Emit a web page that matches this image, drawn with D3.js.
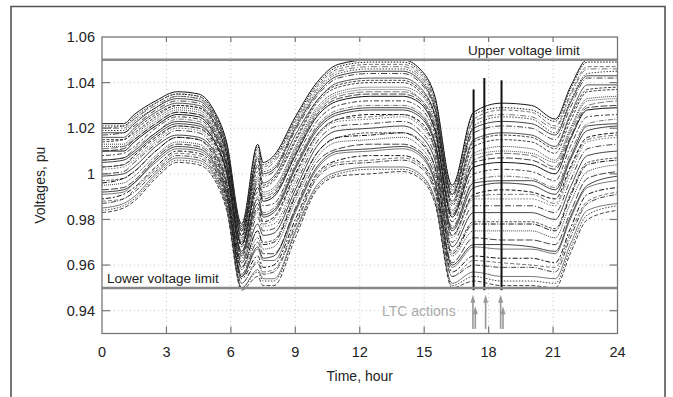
<!DOCTYPE html>
<html>
<head>
<meta charset="utf-8">
<script src="https://cdn.jsdelivr.net/npm/d3@7"></script>
<style>
  body { margin: 0; background: #fff; }
  svg text { font-family: "Liberation Sans", Arial, sans-serif; fill: #222; }
</style>
</head>
<body>
<script>
// hours at which the bus voltage profiles were read
const hours = [0, 1, 1.5, 2.5, 3.5, 4.5, 5.2, 5.8, 6.5, 7.25, 7.5, 8, 9, 10, 11, 12.5, 14, 14.8, 15.5, 16.3, 17.3, 18.6, 20, 21.1, 21.8, 22.6, 24];

// one row per hour, one column per bus (pu)
const busVoltages = [
  [1.022, 1.020, 1.019, 1.017, 1.016, 1.014, 1.013, 1.011, 1.010, 1.008, 1.006, 1.005, 1.003, 1.002, 1.000, 0.999, 0.997, 0.995, 0.993, 0.991, 0.989, 0.987, 0.985, 0.983],
  [1.022, 1.021, 1.019, 1.018, 1.016, 1.015, 1.013, 1.012, 1.010, 1.009, 1.007, 1.006, 1.004, 1.003, 1.001, 1.000, 0.998, 0.996, 0.994, 0.992, 0.991, 0.989, 0.987, 0.985],
  [1.026, 1.024, 1.023, 1.021, 1.020, 1.018, 1.017, 1.015, 1.014, 1.012, 1.011, 1.009, 1.008, 1.006, 1.005, 1.003, 1.001, 0.999, 0.997, 0.996, 0.994, 0.992, 0.990, 0.988],
  [1.032, 1.031, 1.029, 1.028, 1.027, 1.025, 1.024, 1.022, 1.021, 1.020, 1.018, 1.017, 1.016, 1.014, 1.013, 1.012, 1.010, 1.008, 1.007, 1.005, 1.003, 1.001, 1.000, 0.998],
  [1.036, 1.035, 1.034, 1.032, 1.031, 1.030, 1.029, 1.027, 1.026, 1.025, 1.024, 1.022, 1.021, 1.020, 1.019, 1.017, 1.016, 1.014, 1.013, 1.011, 1.010, 1.008, 1.007, 1.005],
  [1.035, 1.034, 1.033, 1.031, 1.030, 1.029, 1.028, 1.026, 1.025, 1.024, 1.023, 1.021, 1.020, 1.019, 1.018, 1.016, 1.015, 1.013, 1.012, 1.010, 1.009, 1.007, 1.006, 1.004],
  [1.028, 1.027, 1.026, 1.024, 1.023, 1.022, 1.021, 1.020, 1.018, 1.017, 1.016, 1.015, 1.014, 1.012, 1.011, 1.010, 1.009, 1.007, 1.006, 1.004, 1.003, 1.001, 1.000, 0.998],
  [1.014, 1.013, 1.012, 1.010, 1.009, 1.008, 1.007, 1.006, 1.004, 1.003, 1.002, 1.001, 1.000, 0.998, 0.997, 0.996, 0.995, 0.993, 0.992, 0.990, 0.989, 0.987, 0.986, 0.984],
  [0.978, 0.977, 0.976, 0.975, 0.973, 0.972, 0.971, 0.970, 0.969, 0.968, 0.966, 0.965, 0.964, 0.963, 0.962, 0.961, 0.959, 0.958, 0.956, 0.955, 0.954, 0.952, 0.950, 0.949],
  [1.013, 1.011, 1.008, 1.006, 1.004, 1.001, 0.999, 0.997, 0.994, 0.992, 0.990, 0.987, 0.985, 0.983, 0.981, 0.978, 0.975, 0.972, 0.970, 0.967, 0.964, 0.961, 0.958, 0.955],
  [1.005, 1.003, 1.001, 0.999, 0.996, 0.994, 0.992, 0.990, 0.988, 0.986, 0.983, 0.981, 0.979, 0.977, 0.975, 0.973, 0.970, 0.967, 0.965, 0.962, 0.959, 0.956, 0.954, 0.951],
  [1.008, 1.006, 1.003, 1.001, 0.999, 0.997, 0.994, 0.992, 0.990, 0.987, 0.985, 0.983, 0.981, 0.978, 0.976, 0.974, 0.971, 0.968, 0.965, 0.962, 0.960, 0.957, 0.954, 0.951],
  [1.025, 1.023, 1.021, 1.019, 1.017, 1.014, 1.012, 1.010, 1.008, 1.006, 1.004, 1.002, 1.000, 0.997, 0.995, 0.993, 0.991, 0.988, 0.985, 0.983, 0.980, 0.977, 0.975, 0.972],
  [1.040, 1.038, 1.036, 1.034, 1.032, 1.031, 1.029, 1.027, 1.025, 1.023, 1.021, 1.019, 1.017, 1.016, 1.014, 1.012, 1.009, 1.007, 1.005, 1.002, 1.000, 0.998, 0.995, 0.993],
  [1.048, 1.046, 1.044, 1.042, 1.040, 1.038, 1.036, 1.034, 1.032, 1.030, 1.028, 1.026, 1.024, 1.023, 1.021, 1.019, 1.016, 1.014, 1.011, 1.009, 1.006, 1.004, 1.001, 0.999],
  [1.050, 1.048, 1.046, 1.044, 1.042, 1.040, 1.038, 1.036, 1.034, 1.032, 1.030, 1.028, 1.026, 1.024, 1.022, 1.020, 1.018, 1.015, 1.013, 1.010, 1.008, 1.005, 1.003, 1.000],
  [1.050, 1.048, 1.046, 1.044, 1.042, 1.040, 1.038, 1.036, 1.034, 1.032, 1.030, 1.028, 1.026, 1.025, 1.023, 1.021, 1.018, 1.016, 1.013, 1.011, 1.008, 1.006, 1.003, 1.001],
  [1.046, 1.044, 1.042, 1.040, 1.038, 1.036, 1.035, 1.033, 1.031, 1.029, 1.027, 1.025, 1.023, 1.021, 1.019, 1.017, 1.015, 1.012, 1.010, 1.008, 1.005, 1.003, 1.000, 0.998],
  [1.034, 1.032, 1.030, 1.028, 1.026, 1.025, 1.023, 1.021, 1.019, 1.017, 1.015, 1.013, 1.011, 1.010, 1.008, 1.006, 1.003, 1.001, 0.999, 0.996, 0.994, 0.992, 0.989, 0.987],
  [0.995, 0.993, 0.991, 0.990, 0.988, 0.986, 0.984, 0.982, 0.981, 0.979, 0.977, 0.975, 0.973, 0.972, 0.970, 0.968, 0.966, 0.964, 0.961, 0.959, 0.957, 0.955, 0.952, 0.950],
  [1.027, 1.024, 1.021, 1.018, 1.015, 1.012, 1.009, 1.006, 1.003, 1.000, 0.997, 0.994, 0.991, 0.989, 0.986, 0.983, 0.979, 0.975, 0.972, 0.968, 0.964, 0.960, 0.957, 0.953],
  [1.031, 1.028, 1.025, 1.021, 1.018, 1.015, 1.012, 1.009, 1.005, 1.002, 0.999, 0.996, 0.993, 0.989, 0.986, 0.983, 0.979, 0.975, 0.971, 0.967, 0.963, 0.959, 0.955, 0.951],
  [1.030, 1.027, 1.024, 1.020, 1.017, 1.014, 1.011, 1.008, 1.004, 1.001, 0.998, 0.995, 0.992, 0.989, 0.986, 0.983, 0.979, 0.975, 0.971, 0.967, 0.963, 0.959, 0.955, 0.951],
  [1.024, 1.021, 1.018, 1.015, 1.012, 1.009, 1.006, 1.003, 1.000, 0.997, 0.994, 0.991, 0.989, 0.986, 0.983, 0.980, 0.976, 0.972, 0.969, 0.965, 0.961, 0.957, 0.954, 0.950],
  [1.038, 1.035, 1.032, 1.029, 1.026, 1.023, 1.020, 1.018, 1.015, 1.012, 1.009, 1.006, 1.003, 1.000, 0.997, 0.994, 0.991, 0.987, 0.983, 0.980, 0.976, 0.972, 0.969, 0.965],
  [1.050, 1.047, 1.044, 1.042, 1.039, 1.036, 1.033, 1.030, 1.028, 1.025, 1.022, 1.019, 1.016, 1.014, 1.011, 1.008, 1.005, 1.001, 0.998, 0.994, 0.991, 0.987, 0.984, 0.980],
  [1.050, 1.047, 1.045, 1.042, 1.039, 1.037, 1.034, 1.032, 1.029, 1.026, 1.024, 1.021, 1.018, 1.016, 1.013, 1.010, 1.007, 1.004, 1.001, 0.997, 0.994, 0.991, 0.987, 0.984]
];

// further buses, same hours (pu)
const busVoltagesMore = [
  [1.021, 1.020, 1.018, 1.015, 1.012, 1.010, 1.006, 1.003, 0.996, 0.992, 0.988, 0.984],
  [1.021, 1.020, 1.018, 1.015, 1.012, 1.011, 1.007, 1.004, 0.998, 0.993, 0.989, 0.986],
  [1.025, 1.024, 1.022, 1.019, 1.016, 1.015, 1.010, 1.007, 1.001, 0.996, 0.993, 0.989],
  [1.031, 1.030, 1.029, 1.026, 1.023, 1.022, 1.018, 1.015, 1.010, 1.006, 1.002, 0.999],
  [1.035, 1.034, 1.033, 1.030, 1.028, 1.027, 1.023, 1.021, 1.016, 1.012, 1.009, 1.006],
  [1.034, 1.033, 1.032, 1.029, 1.027, 1.026, 1.022, 1.020, 1.015, 1.011, 1.008, 1.005],
  [1.027, 1.026, 1.025, 1.023, 1.020, 1.019, 1.015, 1.013, 1.008, 1.005, 1.002, 0.999],
  [1.013, 1.012, 1.011, 1.009, 1.006, 1.005, 1.001, 0.999, 0.994, 0.991, 0.988, 0.985],
  [0.977, 0.976, 0.975, 0.973, 0.970, 0.969, 0.966, 0.964, 0.959, 0.955, 0.952, 0.950],
  [1.012, 1.010, 1.007, 1.003, 0.998, 0.996, 0.989, 0.984, 0.975, 0.968, 0.962, 0.957],
  [1.004, 1.002, 1.000, 0.995, 0.991, 0.989, 0.982, 0.978, 0.969, 0.963, 0.957, 0.953],
  [1.007, 1.005, 1.002, 0.998, 0.993, 0.991, 0.984, 0.980, 0.970, 0.964, 0.958, 0.953],
  [1.024, 1.022, 1.020, 1.015, 1.011, 1.009, 1.003, 0.999, 0.990, 0.984, 0.978, 0.974],
  [1.039, 1.037, 1.035, 1.032, 1.028, 1.026, 1.020, 1.017, 1.009, 1.003, 0.999, 0.994],
  [1.047, 1.045, 1.043, 1.039, 1.035, 1.033, 1.027, 1.024, 1.016, 1.010, 1.005, 1.000],
  [1.049, 1.047, 1.045, 1.041, 1.037, 1.035, 1.029, 1.025, 1.017, 1.011, 1.006, 1.002],
  [1.049, 1.047, 1.045, 1.041, 1.037, 1.035, 1.029, 1.026, 1.018, 1.012, 1.007, 1.002],
  [1.045, 1.043, 1.041, 1.037, 1.033, 1.032, 1.026, 1.022, 1.014, 1.009, 1.004, 0.999],
  [1.033, 1.031, 1.029, 1.026, 1.022, 1.020, 1.014, 1.011, 1.003, 0.997, 0.993, 0.988],
  [0.994, 0.992, 0.991, 0.987, 0.983, 0.982, 0.976, 0.973, 0.965, 0.960, 0.955, 0.951],
  [1.026, 1.023, 1.020, 1.014, 1.008, 1.005, 0.996, 0.990, 0.978, 0.969, 0.962, 0.955],
  [1.029, 1.026, 1.023, 1.017, 1.010, 1.007, 0.997, 0.991, 0.978, 0.969, 0.961, 0.953],
  [1.028, 1.025, 1.022, 1.016, 1.009, 1.006, 0.997, 0.991, 0.978, 0.968, 0.960, 0.953],
  [1.023, 1.020, 1.017, 1.011, 1.005, 1.002, 0.993, 0.987, 0.975, 0.966, 0.959, 0.952],
  [1.037, 1.034, 1.031, 1.025, 1.019, 1.016, 1.007, 1.002, 0.990, 0.981, 0.974, 0.967],
  [1.049, 1.046, 1.043, 1.037, 1.032, 1.029, 1.021, 1.015, 1.004, 0.995, 0.988, 0.982],
  [1.049, 1.046, 1.043, 1.038, 1.033, 1.030, 1.022, 1.017, 1.006, 0.999, 0.992, 0.986]
];

// tap changer operations (hour, peak voltage of the spike)
const ltcHours = [17.3, 17.8, 18.6];
const ltcPeaks = [1.037, 1.042, 1.041];
// arrows under the LTC actions
const arrowHours = [17.27, 17.38, 17.86, 18.56, 18.67];
const arrowTips = [0.947, 0.942, 0.947, 0.947, 0.942];

const xTicks = [0, 3, 6, 9, 12, 15, 18, 21, 24];
const yTicks = [0.94, 0.96, 0.98, 1, 1.02, 1.04, 1.06];
const upperLimit = 1.05, lowerLimit = 0.95;

let W = 673, H = 397;
let margin = {top: 37, right: 55, bottom: 63, left: 102};

let svg = d3.select("body").append("svg")
    .attr("width", W)
    .attr("height", H);

// outer frame (open at the bottom)
svg.append("path")
    .attr("d", "M11,397 V6.5 H665 V397")
    .attr("fill", "none")
    .attr("stroke", "#555")
    .attr("stroke-width", 1.6);

let x = d3.scaleLinear().domain([0, 24]).range([margin.left, W - margin.right - 0.5]);
let y = d3.scaleLinear().domain([0.93, 1.06]).range([H - margin.bottom - 0.5, margin.top]);

let x0 = x.range()[0], x1 = x.range()[1], y0 = y.range()[0], y1 = y.range()[1];

// dotted grid
let grid = svg.append("g").attr("stroke", "#c8c8c8").attr("stroke-dasharray", "1,3").attr("stroke-width", 1);
grid.selectAll(".gx").data(xTicks.slice(1, -1)).enter().append("line")
    .attr("x1", d => x(d)).attr("x2", d => x(d)).attr("y1", y1).attr("y2", y0);
grid.selectAll(".gy").data(yTicks.slice(0, -1)).enter().append("line")
    .attr("x1", x0).attr("x2", x1).attr("y1", d => y(d)).attr("y2", d => y(d));

// bus voltage curves
let toSeries = table => d3.range(table[0].length).map(k => hours.map((h, i) => ({h: h, v: table[i][k]})));
let series = toSeries(busVoltages).concat(toSeries(busVoltagesMore));
let dashes = ["", "4,2", "1.5,1.5", "6,2,1,2", "", "3,1.5", "1,1", "7,2", "", "2,2,5,2", "5,1.5,1,1.5"];

let line = d3.line()
    .x(d => x(d.h))
    .y(d => y(d.v))
    .curve(d3.curveMonotoneX);

svg.append("g").selectAll("path").data(series).enter().append("path")
    .attr("d", line)
    .attr("fill", "none")
    .attr("stroke", (d, i) => i % 3 == 1 ? "#555" : "#151515")
    .attr("stroke-width", (d, i) => i % 4 == 0 ? 1 : 0.8)
    .attr("stroke-dasharray", (d, i) => dashes[i % dashes.length]);

// LTC spikes
svg.append("g").selectAll("line").data(ltcHours).enter().append("line")
    .attr("x1", d => x(d)).attr("x2", d => x(d))
    .attr("y1", (d, i) => y(ltcPeaks[i]))
    .attr("y2", y(0.949))
    .attr("stroke", "#111")
    .attr("stroke-width", 2);

// voltage limits
let limits = svg.append("g");
limits.selectAll("line").data([upperLimit, lowerLimit]).enter().append("line")
    .attr("x1", x0).attr("x2", x1)
    .attr("y1", d => y(d)).attr("y2", d => y(d))
    .attr("stroke", "#888")
    .attr("stroke-width", 2.5);
limits.append("text").attr("x", 468).attr("y", y(upperLimit) - 5)
    .style("font-size", "13.5px").text("Upper voltage limit");
limits.append("text").attr("x", 107).attr("y", y(lowerLimit) - 5)
    .style("font-size", "13.5px").text("Lower voltage limit");

// LTC arrows
let arrows = svg.append("g").attr("fill", "#999").attr("stroke", "#999");
arrows.selectAll("line").data(arrowHours).enter().append("line")
    .attr("x1", d => x(d)).attr("x2", d => x(d))
    .attr("y1", (d, i) => y(arrowTips[i]) + 4)
    .attr("y2", y(0.932))
    .attr("stroke-width", 1.6);
arrows.selectAll("path").data(arrowHours).enter().append("path")
    .attr("d", (d, i) => {
      let px = x(d), py = y(arrowTips[i]);
      return "M" + px + "," + py + "L" + (px - 2.5) + "," + (py + 8) + "L" + (px + 2.5) + "," + (py + 8) + "Z";
    })
    .attr("stroke", "none");
svg.append("text").attr("x", 382).attr("y", y(0.94) + 5)
    .style("font-size", "14px").style("fill", "#aaa").text("LTC actions");

// plot frame and inward ticks
svg.append("rect")
    .attr("x", x0).attr("y", y1).attr("width", x1 - x0).attr("height", y0 - y1)
    .attr("fill", "none").attr("stroke", "#777").attr("stroke-width", 1.3);
let ticks = svg.append("g").attr("stroke", "#777").attr("stroke-width", 1.2);
ticks.selectAll(".tb").data(xTicks.slice(1, -1)).enter().append("line")
    .attr("x1", d => x(d)).attr("x2", d => x(d)).attr("y1", y0).attr("y2", y0 - 7);
ticks.selectAll(".tt").data(xTicks.slice(1, -1)).enter().append("line")
    .attr("x1", d => x(d)).attr("x2", d => x(d)).attr("y1", y1).attr("y2", y1 + 5);
ticks.selectAll(".tl").data(yTicks.slice(0, -1)).enter().append("line")
    .attr("x1", x0).attr("x2", x0 + 8).attr("y1", d => y(d)).attr("y2", d => y(d));
ticks.selectAll(".tr").data(yTicks.slice(0, -1)).enter().append("line")
    .attr("x1", x1).attr("x2", x1 - 8).attr("y1", d => y(d)).attr("y2", d => y(d));

// tick labels
svg.append("g").selectAll("text").data(xTicks).enter().append("text")
    .attr("x", d => x(d)).attr("y", y0 + 23)
    .attr("text-anchor", "middle")
    .style("font-size", "14.5px")
    .text(d => d);
svg.append("g").selectAll("text").data(yTicks).enter().append("text")
    .attr("x", x0 - 7).attr("y", d => y(d)).attr("dy", "0.35em")
    .attr("text-anchor", "end")
    .style("font-size", "14.5px")
    .text(d => d == 1 ? "1" : d3.format(".2f")(d));

// axis titles
svg.append("text").attr("x", (x0 + x1) / 2).attr("y", 381)
    .attr("text-anchor", "middle").style("font-size", "14px").text("Time, hour");
svg.append("text")
    .attr("transform", "translate(45," + ((y0 + y1) / 2) + ") rotate(-90)")
    .attr("text-anchor", "middle").style("font-size", "14px").text("Voltages, pu");
</script>
</body>
</html>
